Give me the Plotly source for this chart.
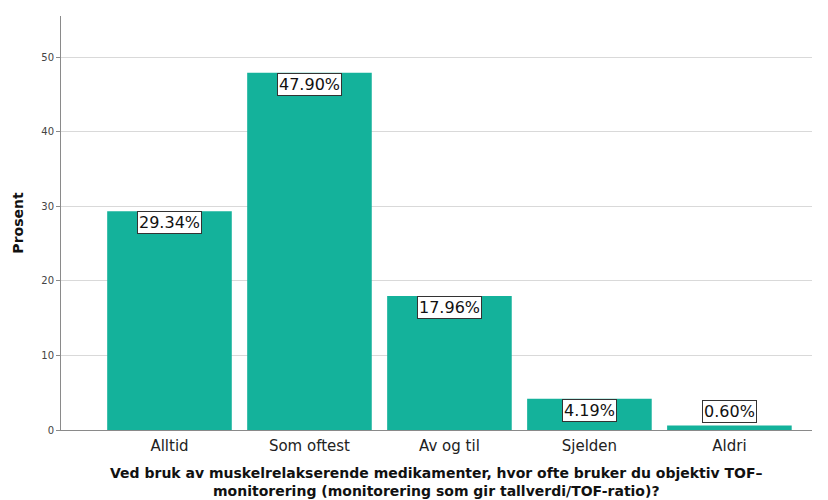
import plotly.graph_objects as go

categories = ["Alltid", "Som oftest", "Av og til", "Sjelden", "Aldri"]
values = [29.34, 47.90, 17.96, 4.19, 0.60]
labels = ["29.34%", "47.90%", "17.96%", "4.19%", "0.60%"]
y_ticks = [0, 10, 20, 30, 40, 50]

FONT = "DejaVu Sans"

fig = go.Figure()
fig.add_trace(go.Bar(
    x=list(range(len(categories))), y=values,
    marker=dict(color="#14B29B", line=dict(width=0)),
    width=0.89, hoverinfo="skip",
))

for i, (v, t) in enumerate(zip(values, labels)):
    inside = v > 3
    fig.add_annotation(
        x=i, y=v, xref="x", yref="y", text=t, showarrow=False,
        yanchor="top" if inside else "bottom", yshift=0 if inside else 3,
        font=dict(family=FONT, size=16, color="#111"),
        bgcolor="white", bordercolor="#333", borderwidth=1, borderpad=1,
    )

fig.add_annotation(
    x=0.5, y=-0.126, xref="paper", yref="paper", showarrow=False,
    xanchor="center", yanchor="middle",
    text="<b>Ved bruk av muskelrelakserende medikamenter, hvor ofte bruker du objektiv TOF–<br>monitorering (monitorering som gir tallverdi/TOF-ratio)?</b>",
    font=dict(family=FONT, size=14, color="#111"),
)

fig.update_layout(
    width=828, height=500,
    margin=dict(l=61, r=16, t=16, b=70),
    paper_bgcolor="white", plot_bgcolor="white",
    showlegend=False,
    font=dict(family=FONT, color="#222"),
    xaxis=dict(
        range=[-0.775, 4.59],
        tickmode="array", tickvals=list(range(len(categories))), ticktext=categories,
        tickfont=dict(family=FONT, size=15, color="#222"),
        ticklabelstandoff=2,
        showline=True, linecolor="#8a8a8a", linewidth=1,
        showgrid=False, zeroline=False, ticks="", automargin=False,
    ),
    yaxis=dict(
        range=[0, 55.5],
        tickmode="array", tickvals=y_ticks,
        tickfont=dict(family=FONT, size=10, color="#444"),
        showline=True, linecolor="#8a8a8a", linewidth=1,
        showgrid=True, gridcolor="#d9d9d9", gridwidth=1,
        zeroline=False, ticks="outside", ticklen=4, tickcolor="#8a8a8a",
        automargin=False,
        title=dict(text="<b>Prosent</b>", font=dict(family=FONT, size=14, color="#111"), standoff=14),
    ),
)

fig.write_html("out.html")
